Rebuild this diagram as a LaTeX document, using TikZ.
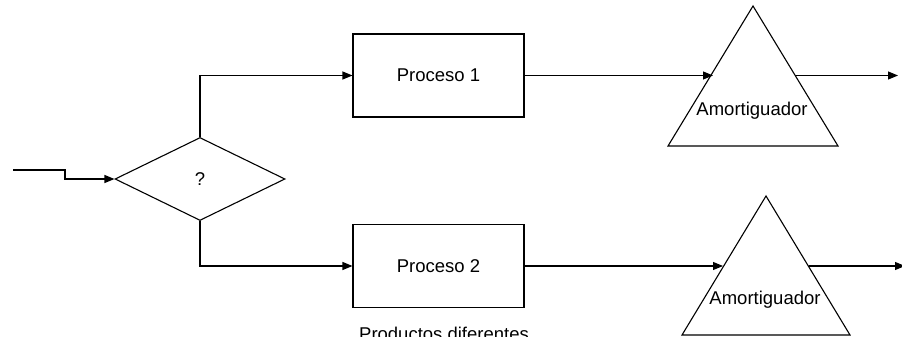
\documentclass[tikz,border=0pt]{standalone}
\usepackage{fontspec}
\setmainfont{Liberation Sans}
\usetikzlibrary{arrows.meta,shapes.geometric,positioning}

\begin{document}
\begin{tikzpicture}[x=1pt, y=-1pt, line width=1.1pt, >={Triangle[length=10pt, width=8pt]},
   font=\fontsize{18.5}{21}\selectfont,
   proc/.style={draw, rectangle, minimum width=171pt, minimum height=83pt, inner sep=0pt},
   decision/.style={draw, diamond, minimum width=170pt, minimum height=83pt, inner sep=0pt}]
   \clip (0, 0) rectangle (902, 337);

   % nodes
   \node[decision] (q) at (200, 179) {?};
   \node[proc] (p1) at (438.5, 75.5) {Proceso 1};
   \node[proc] (p2) at (438.5, 266) {Proceso 2};

   % buffers
   \coordinate (t1top) at (753, 6);
   \coordinate (t1l) at (668, 146);
   \coordinate (t1r) at (838, 146);
   \draw (t1top) -- (t1l) -- (t1r) -- cycle;
   \node (b1) at (752, 111) {Amortiguador};

   \coordinate (t2top) at (766, 196);
   \coordinate (t2l) at (682, 335);
   \coordinate (t2r) at (850, 335);
   \draw (t2top) -- (t2l) -- (t2r) -- cycle;
   \node (b2) at (765, 300) {Amortiguador};

   % ends of the connectors
   \coordinate (src) at (13, 170);
   \coordinate (a1in) at (713, 75.5);
   \coordinate (a1out) at (795, 75.5);
   \coordinate (out1) at (898, 75.5);
   \coordinate (a2in) at (723, 266);
   \coordinate (a2out) at (809, 266);
   \coordinate (out2) at (905, 266);

   % connectors
   \draw[->] (src) -- (65, 170) -- (65, 179) -- (q.west);
   \draw[->] (q.north) |- (p1.west);
   \draw[->] (q.south) |- (p2.west);
   \draw[->] (p1.east) -- (a1in);
   \draw[->] (a1out) -- (out1);
   \draw[->] (p2.east) -- (a2in);
   \draw[->] (a2out) -- (out2);

   \node[anchor=base] (note) at (444, 340) {Productos diferentes};
\end{tikzpicture}
\end{document}
